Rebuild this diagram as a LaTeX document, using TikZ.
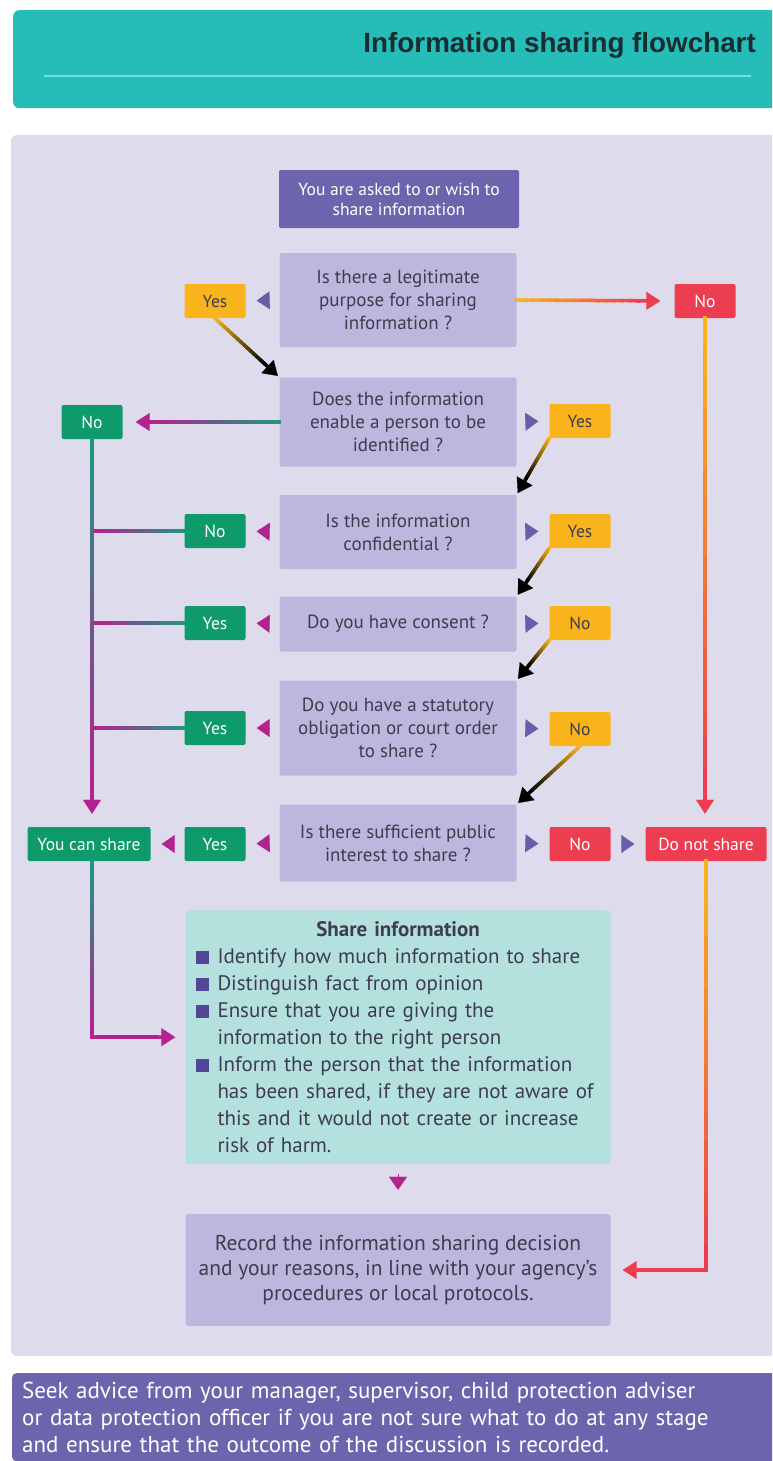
\documentclass[tikz,border=0pt]{standalone}
\usepackage{fontspec}
\setmainfont{PT Sans}
\newfontfamily\titlefont{Liberation Sans}
\usetikzlibrary{arrows.meta,calc}

\definecolor{HeadTeal}{RGB}{38,189,184}
\definecolor{HeadLine}{RGB}{110,222,226}
\definecolor{TitleInk}{RGB}{24,44,50}
\definecolor{PanelLilac}{RGB}{222,220,236}
\definecolor{DeepPurple}{RGB}{108,100,172}
\definecolor{AskLilac}{RGB}{190,182,220}
\definecolor{FlagOrange}{RGB}{249,180,28}
\definecolor{FlagRed}{RGB}{236,62,80}
\definecolor{FlagGreen}{RGB}{14,154,106}
\definecolor{LinkMagenta}{RGB}{180,34,144}
\definecolor{LinkTeal}{RGB}{30,150,130}
\definecolor{MarkPurple}{RGB}{106,92,170}
\definecolor{BulletPurple}{RGB}{84,70,150}
\definecolor{ShareMint}{RGB}{180,225,222}
\definecolor{InkGrey}{RGB}{62,60,78}

% colour fade along a straight connector
\newcommand{\fadeline}[4]{%
  \foreach \seg in {0,...,15}{%
    \pgfmathtruncatemacro{\fadepct}{100*\seg/15}%
    \draw[line width=3.5pt, line cap=rect, draw=#2!\fadepct!#1]
      ($(#3)!{\seg/16}!(#4)$) -- ($(#3)!{(\seg+1)/16}!(#4)$);
  }%
}
% same, with a triangle tip [gap to target]{from colour}{to colour}{from}{to}
\newcommand{\fadearrow}[5][12pt]{%
  \path ($(#5)!#1!(#4)$) coordinate (ftip);
  \path ($(ftip)!14pt!(#4)$) coordinate (fbase);
  \fadeline{#2}{#3}{#4}{fbase}%
  \draw[draw=#3, line width=0.1pt, -{Triangle[length=14pt,width=18pt]}] (fbase) -- (ftip);
}
\newcommand{\sqbullet}{\par\hangindent=22pt\hangafter=1\noindent\makebox[22pt][l]{\textcolor{BulletPurple}{\rule{13pt}{13pt}}}}

\begin{document}
\begin{tikzpicture}[x=1pt, y=-1pt,
  ask/.style={fill=AskLilac, text=InkGrey, minimum width=237pt, align=center, rounded corners=2pt, font=\fontsize{19}{23}\selectfont},
  flag/.style={minimum width=61pt, minimum height=34pt, rounded corners=2pt, font=\fontsize{17.5}{19}\selectfont},
  greenflag/.style={flag, fill=FlagGreen, text=white},
  redflag/.style={flag, fill=FlagRed, text=white},
  amberflag/.style={flag, fill=FlagOrange, text=InkGrey},
  tri/.style={draw=#1, line width=0.1pt, -{Triangle[length=13pt,width=18pt]}, shorten <=10pt, shorten >=11pt}]

\useasboundingbox (0,0) rectangle (772,1461);
\clip (0,0) rectangle (772,1461);

% header
\node[fill=HeadTeal, rounded corners=6pt, anchor=north west, minimum width=800pt, minimum height=98pt] (header) at (13,10) {};
\node[anchor=east, inner sep=0pt, text=TitleInk, font=\titlefont\bfseries\fontsize{27.8}{32}\selectfont] (title) at (756,45) {Information sharing flowchart};
\draw[HeadLine, line width=1.5pt] (44,76) -- (751,76);

% panel
\fill[PanelLilac, rounded corners=6pt] (11,135) rectangle (800,1356);

% questions
\node[fill=DeepPurple, text=white, minimum width=240pt, minimum height=58pt, align=center, rounded corners=2pt, font=\fontsize{17.5}{20}\selectfont] (start) at (399,199) {You are asked to or wish to\\share information};
\node[ask, minimum height=94pt] (q1) at (398,300) {Is there a legitimate\\purpose for sharing\\information ?};
\node[ask, minimum height=89pt] (q2) at (398,422) {Does the information\\enable a person to be\\identified ?};
\node[ask, minimum height=74pt] (q3) at (398,532) {Is the information\\confidential ?};
\node[ask, minimum height=55pt] (q4) at (398,624) {Do you have consent ?};
\node[ask, minimum height=95pt] (q5) at (398,728) {Do you have a statutory\\obligation or court order\\to share ?};
\node[ask, minimum height=77pt] (q6) at (398,843) {Is there sufficient public\\interest to share ?};

% answers
\node[amberflag] (q1yes) at (215,301) {Yes};
\node[redflag] (q1no) at (705,301) {No};
\node[greenflag] (q2no) at (92,422) {No};
\node[amberflag] (q2yes) at (580,421) {Yes};
\node[greenflag] (q3no) at (215,531) {No};
\node[amberflag] (q3yes) at (580,531) {Yes};
\node[greenflag] (q4yes) at (215,623) {Yes};
\node[amberflag] (q4no) at (580,623) {No};
\node[greenflag] (q5yes) at (215,728) {Yes};
\node[amberflag] (q5no) at (580,729) {No};
\node[greenflag] (q6yes) at (215,844) {Yes};
\node[redflag] (q6no) at (580,844) {No};
\node[greenflag, minimum width=123pt] (canshare) at (89,844) {You can share};
\node[redflag, minimum width=121pt] (noshare) at (706,844) {Do not share};

% outcomes
\node[fill=ShareMint, text=InkGrey, anchor=north, minimum width=425pt, minimum height=254pt, text width=405pt, inner xsep=10pt, rounded corners=3pt, font=\fontsize{21}{27}\selectfont] (shareinfo) at (398,910) {%
  \centering\textbf{Share information}\par
  \raggedright
  \sqbullet Identify how much information to share
  \sqbullet Distinguish fact from opinion
  \sqbullet Ensure that you are giving the\newline information to the right person
  \sqbullet Inform the person that the information\newline has been shared, if they are not aware of\newline this and it would not create or increase\newline risk of harm.\par};
\node[ask, minimum width=425pt, minimum height=112pt, rounded corners=3pt, font=\fontsize{21.5}{25}\selectfont] (record) at (398,1270) {Record the information sharing decision\\and your reasons, in line with your agency's\\procedures or local protocols.};
\node[fill=DeepPurple, text=white, anchor=north west, minimum height=88pt, text width=760pt, inner xsep=10pt, align=left, rounded corners=4pt, font=\fontsize{23}{27}\selectfont] (advice) at (12,1373) {Seek advice from your manager, supervisor, child protection adviser\\or data protection officer if you are not sure what to do at any stage\\and ensure that the outcome of the discussion is recorded.};

% small pointers
\draw[tri=MarkPurple] (q1.west) -- (q1yes.east);
\draw[tri=MarkPurple] (q2.east) -- (q2yes.west);
\draw[tri=LinkMagenta] (q3.west) -- (q3no.east);
\draw[tri=MarkPurple] (q3.east) -- (q3yes.west);
\draw[tri=LinkMagenta] (q4.west) -- (q4yes.east);
\draw[tri=MarkPurple] (q4.east) -- (q4no.west);
\draw[tri=LinkMagenta] (q5.west) -- (q5yes.east);
\draw[tri=MarkPurple] (q5.east) -- (q5no.west);
\draw[tri=LinkMagenta] (q6.west) -- (q6yes.east);
\draw[tri=LinkMagenta] (q6yes.west) -- (canshare.east);
\draw[tri=MarkPurple] (q6.east) -- (q6no.west);
\draw[tri=MarkPurple] (q6no.east) -- (noshare.west);
\draw[tri=LinkMagenta, shorten >=24pt] (shareinfo.south) -- (record.north);

% yes/no chain
\fadearrow[2pt]{FlagOrange}{black}{q1yes.south}{q2.north west}
\fadearrow[2pt]{FlagOrange}{black}{q2yes.south west}{q3.north east}
\fadearrow[2pt]{FlagOrange}{black}{q3yes.south west}{q4.north east}
\fadearrow[2pt]{FlagOrange}{black}{q4no.south west}{q5.north east}
\fadearrow[2pt]{FlagOrange}{black}{q5no.south}{q6.north east}

% do not share side
\coordinate (rtop) at (q1no.south |- noshare.north);
\coordinate (rturn) at (noshare.south |- record.east);
\fadearrow[14pt]{FlagOrange}{FlagRed}{q1.east}{q1no.west}
\fadearrow[13pt]{FlagOrange}{FlagRed}{q1no.south}{rtop}
\fadeline{FlagOrange}{FlagRed}{noshare.south}{rturn}
\fadearrow{FlagRed}{FlagRed}{rturn}{record.east}

% can share side
\coordinate (ltop) at (q2no.south |- canshare.north);
\coordinate (lturn) at (q2no.south |- shareinfo.west);
\coordinate (l3) at (q2no.south |- q3no.west);
\coordinate (l4) at (q2no.south |- q4yes.west);
\coordinate (l5) at (q2no.south |- q5yes.west);
\fadearrow[13pt]{LinkTeal}{LinkMagenta}{q2.west}{q2no.east}
\fadeline{LinkTeal}{LinkMagenta}{q3no.west}{l3}
\fadeline{LinkTeal}{LinkMagenta}{q4yes.west}{l4}
\fadeline{LinkTeal}{LinkMagenta}{q5yes.west}{l5}
\fadearrow[13pt]{LinkTeal}{LinkMagenta}{q2no.south}{ltop}
\fadeline{LinkTeal}{LinkMagenta}{ltop |- canshare.south}{lturn}
\fadearrow[10pt]{LinkMagenta}{LinkMagenta}{lturn}{shareinfo.west}

\end{tikzpicture}
\end{document}
